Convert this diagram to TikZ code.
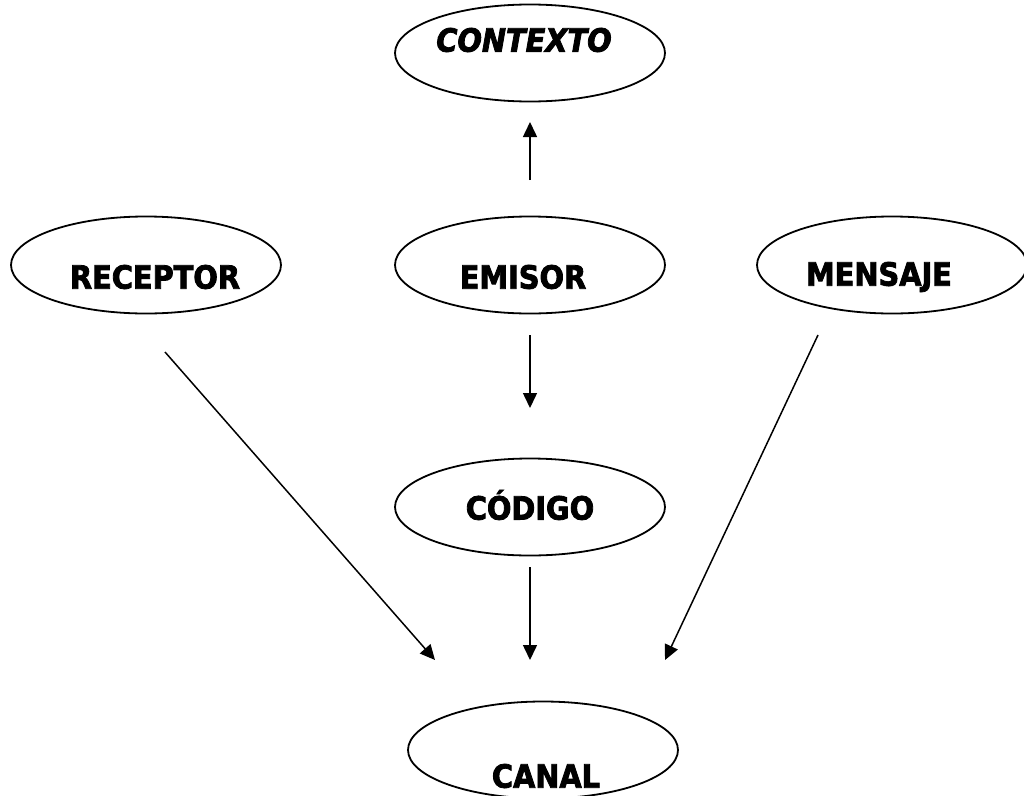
\documentclass[tikz,border=0pt]{standalone}
\usepackage{fontspec}
\setmainfont{DejaVu Sans}[FakeStretch=0.9,BoldFeatures={FakeBold=2.5},BoldItalicFeatures={FakeBold=2.5}]
\usetikzlibrary{shapes.geometric,arrows.meta}
\begin{document}
\begin{tikzpicture}[x=1pt,y=-1pt,
  oval/.style={draw,line width=1.8pt,ellipse,minimum width=270pt,minimum height=97pt,inner sep=0pt},
  lbl/.style={font=\fontsize{32}{36}\selectfont\bfseries,inner sep=0pt},
  arr/.style={line width=1.5pt,-{Triangle[length=15pt,width=14pt]}}]
\useasboundingbox (0,0) rectangle (1024,795);
\node[oval] (contexto) at (530,53) {};
\node[oval] (receptor) at (146,265) {};
\node[oval] (emisor) at (530,265) {};
\node[oval] (mensaje) at (892,265) {};
\node[oval] (codigo) at (530,507) {};
\node[oval] (canal) at (543,750) {};
\node[lbl,font=\fontsize{32}{36}\selectfont\bfseries\itshape] at (524,40) {CONTEXTO};
\node[lbl] at (155,277) {RECEPTOR};
\node[lbl] at (523,277) {EMISOR};
\node[lbl] at (879,277) {MENSAJE};
\node[lbl] at (530,505) {CÓDIGO};
\node[lbl] at (546,776) {CANAL};
\coordinate (a1s) at (530,180); \coordinate (a1e) at (530,122);
\coordinate (a2s) at (530,335); \coordinate (a2e) at (530,408);
\coordinate (a3s) at (530,567); \coordinate (a3e) at (530,660);
\coordinate (a4s) at (165,352); \coordinate (a4e) at (435,660);
\coordinate (a5s) at (818,335); \coordinate (a5e) at (665,660);
\draw[arr] (a1s) -- (a1e);
\draw[arr] (a2s) -- (a2e);
\draw[arr] (a3s) -- (a3e);
\draw[arr] (a4s) -- (a4e);
\draw[arr] (a5s) -- (a5e);
\end{tikzpicture}
\end{document}
